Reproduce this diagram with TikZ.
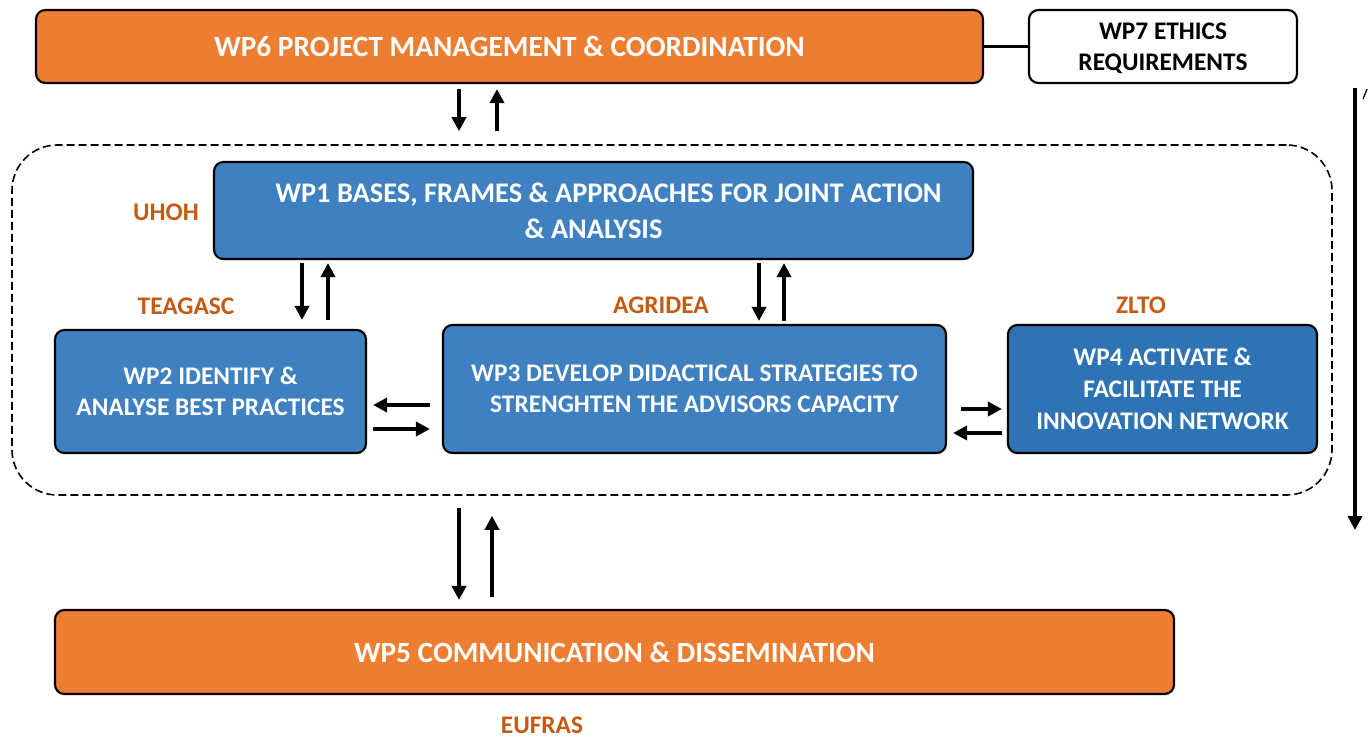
\documentclass[tikz,border=0pt]{standalone}
\usepackage{fontspec}
\setmainfont{Carlito}
\usetikzlibrary{arrows.meta,calc}
\definecolor{orng}{HTML}{ED7D31}
\definecolor{blu}{HTML}{3E80C0}
\definecolor{blu2}{HTML}{2E74B5}
\definecolor{lbl}{HTML}{C55A11}
\newcommand{\wpbox}[7]{%
  \node[#6, minimum width={(#4-#2)*0.75pt}, minimum height={(#5-#3)*0.75pt}]
    (#1) at ({(#2+#4)/2},{(#3+#5)/2}) {#7};}
\tikzset{
  base/.style={draw=black, line width=1.6pt, rounded corners=7pt, inner sep=0pt,
    align=center},
  orbox/.style={base, fill=orng, text=white},
  blbox/.style={base, fill=blu, text=white},
  whbox/.style={base, fill=white, text=black},
  bigfont/.style={font=\bfseries\fontsize{22}{26}\selectfont},
  midfont/.style={font=\bfseries\fontsize{19}{23.25}\selectfont},
  lab/.style={text=lbl, font=\bfseries\fontsize{19}{22}\selectfont},
  arr/.style={line width=3pt, -{Triangle[length=10.5pt,width=10.5pt]}},
}
\begin{document}
\begin{tikzpicture}[x=0.75pt,y=-0.75pt]
\useasboundingbox (0,0) rectangle (1369,738);
% frame
\wpbox{frame}{12}{145}{1332}{495}{draw=black, line width=1.2pt, dash pattern=on 6pt off 3pt, rounded corners=34pt}{}
% boxes
\wpbox{wp6}{36}{10}{983}{83}{orbox, bigfont}{WP6 PROJECT MANAGEMENT \& COORDINATION}
\wpbox{wp7}{1029}{10}{1297}{83}{whbox, midfont, text depth=0pt}{WP7 ETHICS\\REQUIREMENTS}
\wpbox{wp1}{214}{162}{973}{259}{blbox, font=\bfseries\fontsize{21.3}{27}\selectfont}{\hspace*{30\dimexpr0.75pt\relax}WP1 BASES, FRAMES \& APPROACHES FOR JOINT ACTION\\\& ANALYSIS}
\wpbox{wp2}{55}{330}{366}{453}{blbox, midfont}{WP2 IDENTIFY \&\\ANALYSE BEST PRACTICES}
\wpbox{wp3}{443}{325}{946}{453}{blbox, midfont}{WP3 DEVELOP DIDACTICAL STRATEGIES TO\\STRENGHTEN THE ADVISORS CAPACITY}
\wpbox{wp4}{1008}{325}{1317}{453}{blbox, fill=blu2, font=\bfseries\fontsize{19}{24}\selectfont}{WP4 ACTIVATE \&\\FACILITATE THE\\INNOVATION NETWORK}
\wpbox{wp5}{55}{610}{1174}{694}{orbox, bigfont}{WP5 COMMUNICATION \& DISSEMINATION}
% labels
\node[lab] (uhoh) at (166,212) {UHOH};
\node[lab] (teag) at (186,306) {TEAGASC};
\node[lab] (agri) at (661,305) {AGRIDEA};
\node[lab] (zlto) at (1141,305) {ZLTO};
\node[lab] (eufr) at (542,725) {EUFRAS};
% helper coordinates
\coordinate (a1) at (459,0); \coordinate (a2) at (497,0);
\coordinate (b1) at (302,0); \coordinate (b2) at (328,0);
\coordinate (c1) at (759,0); \coordinate (c2) at (784,0);
\coordinate (d1) at (0,405); \coordinate (d2) at (0,429);
\coordinate (e1) at (0,409); \coordinate (e2) at (0,433);
\coordinate (f1) at (459,0); \coordinate (f2) at (492,0);
% WP6 - WP7
\draw[line width=2pt] (wp6.east) -- (wp7.west);
% WP6 <-> frame
\draw[arr] ($(wp6.south -| a1)+(0,5)$) -- ($(frame.north -| a1)+(0,-13)$);
\draw[arr] ($(frame.north -| a2)+(0,-13)$) -- ($(wp6.south -| a2)+(0,5)$);
% WP1 <-> WP2
\draw[arr] ($(wp1.south -| b1)+(0,3)$) -- ($(wp2.north -| b1)+(0,-9)$);
\draw[arr] ($(wp2.north -| b2)+(0,-9)$) -- ($(wp1.south -| b2)+(0,3)$);
% WP1 <-> WP3
\draw[arr] ($(wp1.south -| c1)+(0,3)$) -- ($(wp3.north -| c1)+(0,-3)$);
\draw[arr] ($(wp3.north -| c2)+(0,-3)$) -- ($(wp1.south -| c2)+(0,3)$);
% WP2 <-> WP3
\draw[arr] ($(wp3.west |- d1)+(-12,0)$) -- ($(wp2.east |- d1)+(6,0)$);
\draw[arr] ($(wp2.east |- d2)+(6,0)$) -- ($(wp3.west |- d2)+(-12,0)$);
% WP3 <-> WP4
\draw[arr] ($(wp3.east |- e1)+(14,0)$) -- ($(wp4.west |- e1)+(-5,0)$);
\draw[arr] ($(wp4.west |- e2)+(-5,0)$) -- ($(wp3.east |- e2)+(6,0)$);
% frame <-> WP5
\draw[arr] ($(frame.south -| f1)+(0,12)$) -- ($(wp5.north -| f1)+(0,-9)$);
\draw[arr] ($(wp5.north -| f2)+(0,-12)$) -- ($(frame.south -| f2)+(0,20)$);
% right timeline arrow
\coordinate (t1) at (1355,88);
\coordinate (t2) at (1355,530);
\draw[arr] (t1) -- (t2);
\draw[line width=1pt] (1363,99) -- (1367,89);
\end{tikzpicture}
\end{document}
